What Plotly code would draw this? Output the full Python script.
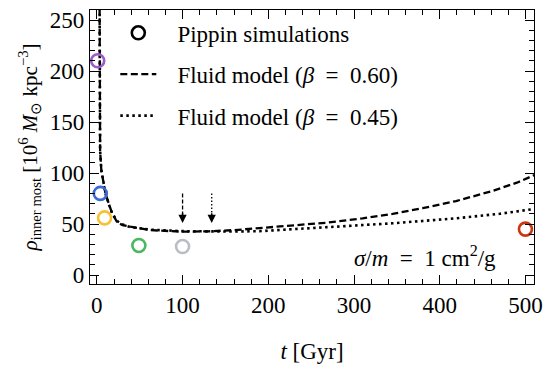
import plotly.graph_objects as go

# Pippin simulation points
sim_t = [1, 4, 9, 49, 100, 500]
sim_rho = [210, 80, 56, 29, 28, 45]
sim_colors = ["#9b5cc8", "#3a6ad6", "#f6c233", "#4cb85e", "#b9bdc6", "#cc3310"]

# Fluid model beta = 0.60 (dashed)
fa_t = [3.2, 3.3, 3.5, 3.8, 5.2, 7.5, 10, 13.7, 17.6, 23.5, 30, 39, 62, 100, 130, 160, 190, 230,
        268, 310, 345, 380, 419, 460, 490, 512]
fa_rho = [262, 200, 150, 122, 103, 91, 80, 70.6, 61, 52, 49, 47.4, 44, 42.5, 42.8, 44, 46, 48.5,
          51.3, 55.5, 60, 65.5, 72.5, 82, 90.5, 98.5]

# Fluid model beta = 0.45 (dotted)
fb_t = [3.2, 3.3, 3.5, 3.8, 5.2, 7.5, 10, 13.7, 17.6, 23.5, 30, 39, 62, 100, 135, 160, 190, 230,
        268, 310, 345, 380, 419, 470, 506, 512]
fb_rho = [262, 200, 150, 122, 103, 91, 80, 70, 61, 53, 49.5, 47, 44.5, 43, 42.6, 42.6, 43, 44.9,
          46.8, 48.9, 50.7, 53, 55.6, 60, 64.4, 65]

# Arrows marking the minimum times
arrow_t = [100, 134]
arrow_top = 80
arrow_tip = 51
arrow_dash = ["dash", "dot"]

x_ticks = [0, 100, 200, 300, 400, 500]
y_ticks = [0, 50, 100, 150, 200, 250]

FONT = "Liberation Serif"
SP = "\u2002"
LEAD = "\u2002\u2009"
fig = go.Figure()

fig.add_trace(go.Scatter(x=fa_t, y=fa_rho, mode="lines", line=dict(color="black", width=2.3, dash="7px,3.5px"),
                         name=f"{LEAD}Fluid model (<i>β</i>{SP}={SP}0.60)", legendgroup="b", legendrank=2))
fig.add_trace(go.Scatter(x=fb_t, y=fb_rho, mode="lines", line=dict(color="black", width=2.6, dash="2.5px,3.5px"),
                         name=f"{LEAD}Fluid model (<i>β</i>{SP}={SP}0.45)", legendgroup="c", legendrank=3))

fig.add_trace(go.Scatter(x=sim_t, y=sim_rho, mode="markers", showlegend=False,
                         marker=dict(symbol="circle-open", size=13, color=sim_colors, line=dict(width=2.6, color=sim_colors))))
fig.add_trace(go.Scatter(x=[None], y=[None], mode="markers", name=f"{LEAD}Pippin simulations", legendgroup="a", legendrank=1,
                         marker=dict(symbol="circle-open", size=13, color="black", line=dict(width=2.6, color="black"))))

for t, d in zip(arrow_t, arrow_dash):
    fig.add_trace(go.Scatter(x=[t, t], y=[arrow_top, arrow_tip + 8], mode="lines", showlegend=False,
                             line=dict(color="black", width=1.3, dash="4px,2px" if d == "dash" else "1.5px,2px")))
    fig.add_annotation(x=t, y=arrow_tip, ax=t, ay=arrow_tip + 11, xref="x", yref="y", axref="x", ayref="y",
                       showarrow=True, arrowhead=2, arrowsize=1.1, arrowwidth=1.5, arrowcolor="black", text="")

fig.add_annotation(x=468, y=18, xref="x", yref="y", xanchor="right", yanchor="middle", showarrow=False,
                   text=f"<i>σ</i>/<i>m</i>{SP}={SP}1 cm<sup>2</sup>/g", font=dict(size=23, family=FONT, color="black"))

axis_common = dict(showline=True, linecolor="black", linewidth=1.3, mirror="allticks", ticks="inside",
                   ticklen=9, tickwidth=1.3, tickcolor="black", showgrid=False, zeroline=False,
                   tickfont=dict(size=23, family=FONT, color="black"))

fig.update_xaxes(range=[-8, 510], tickvals=x_ticks, ticktext=[str(v) for v in x_ticks],
                 minor=dict(ticks="inside", ticklen=4.5, tickwidth=1.1, tickcolor="black", dtick=20, tick0=0),
                 title=dict(text="<i>t</i> [Gyr]", font=dict(size=23, family=FONT, color="black"), standoff=26),
                 **axis_common)
fig.update_yaxes(range=[-8.8, 259.8], tickvals=y_ticks, ticktext=[str(v) for v in y_ticks],
                 minor=dict(ticks="inside", ticklen=4.5, tickwidth=1.1, tickcolor="black", dtick=10, tick0=0),
                 title=dict(text="<i>ρ</i><sub>inner most</sub> [10<sup>6</sup> <i>M</i><sub>⊙</sub> kpc<sup>−3</sup>]",
                            font=dict(size=21, family=FONT, color="black"), standoff=6),
                 **axis_common)

fig.update_layout(
    width=546, height=366,
    margin=dict(l=89.5, r=11.5, t=10, b=82, autoexpand=False),
    plot_bgcolor="white", paper_bgcolor="white",
    showlegend=True,
    legend=dict(x=0.057, y=0.995, xanchor="left", yanchor="top", bgcolor="rgba(0,0,0,0)",
                font=dict(size=23, family=FONT, color="black"), itemwidth=36, tracegroupgap=8.5,
                traceorder="grouped"),
)

fig.write_html("out.html", config={"displayModeBar": False},
               post_script="document.body.style.margin='0';document.body.style.overflow='hidden';")
